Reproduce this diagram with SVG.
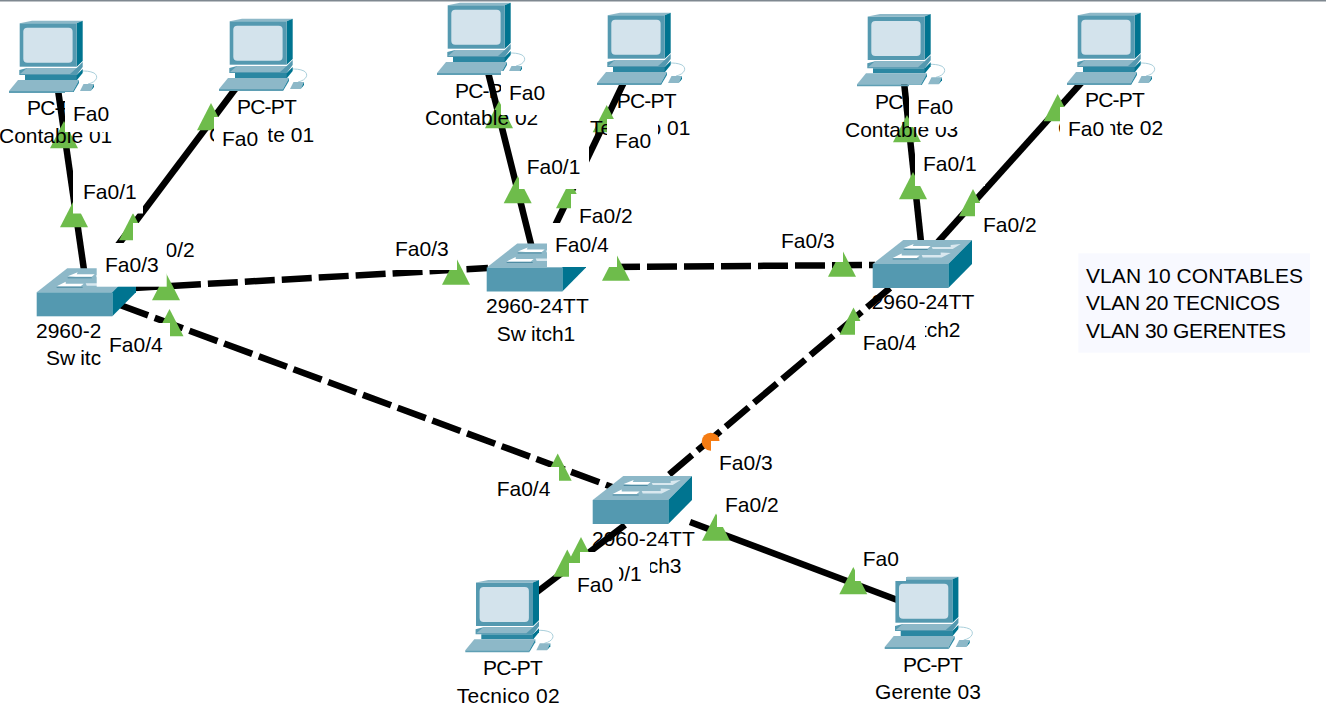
<svg xmlns="http://www.w3.org/2000/svg" xmlns:xlink="http://www.w3.org/1999/xlink" width="1326" height="715" viewBox="0 0 1326 715">
<style>
.t{font-family:"Liberation Sans",Arial,sans-serif;font-size:21px;fill:#000}
.pcn{letter-spacing:-0.8px}
.l{stroke:#000;stroke-width:6.500;fill:none}
.d{stroke:#000;stroke-width:6.500;fill:none;stroke-dasharray:30 7}
.g{fill:#6ebc4b}
.w{fill:#fff}
</style>
<defs>
<g id="pc">
<path d="M88 84C97 82 99 76 94 73C90 71 85 71 82 71" fill="none" stroke="#a9cfdb" stroke-width="1"/>
<path d="M19.7 23.3L32 20.7H82.7L76.7 23.3Z" fill="#8db8c8"/>
<path d="M76.7 23.3L82.7 20.7V61L76.7 66.7Z" fill="#007490"/>
<rect x="19.7" y="23.3" width="57" height="43.4" fill="#5499b0"/>
<rect x="23.3" y="27.7" width="49.3" height="35" rx="4" fill="#d3e3ec"/>
<path d="M19.3 70L27 68H76.7L82.7 62V67L76.7 75H19.3Z" fill="#5499b0"/>
<path d="M27 68H76.7L70 74H20Z" fill="#8db8c8"/>
<rect x="25" y="75" width="52" height="5" fill="#2b87a2"/>
<path d="M76.7 75L82.7 69V73L77 80H76.7Z" fill="#007490"/>
<path d="M9 91L18 80H79L73 91Z" fill="#8db8c8"/>
<path d="M9 91H73V93H9Z" fill="#5f9fb4"/>
<path d="M73 91L79 80V83L73 93Z" fill="#2b87a2"/>
<path d="M80 91L83.5 84H94L90.7 91Z" fill="#8db8c8"/>
<path d="M90.7 91L94 84V87L90.7 91Z" fill="#007490"/>
</g>
<g id="sw">
<path d="M0 0L30.6 -24H99.3L75.6 0Z" fill="#8db8c8"/>
<path d="M75.6 0L99.3 -24V0L75.6 24Z" fill="#007490"/>
<rect x="0" y="0" width="75.6" height="24" fill="#5499b0"/>
<path d="M20 -6L29 -10.500L29 -8.500H47L44 -6Z" fill="#fff"/>
<path d="M20 -5H46" stroke="#4f8ca3" stroke-width="1"/>
<path d="M31 -16L41 -20L40 -18H58L55 -15.500H39Z" fill="#fff"/>
<path d="M31 -14.500H55" stroke="#4f8ca3" stroke-width="1"/>
<path d="M59 -17H78V-19L88 -20L80 -15H60Z" fill="#d9e8ef"/>
<path d="M49 -9H68V-11.500L78 -11L69 -6.500H50Z" fill="#d9e8ef"/>
</g>
<path id="tr" d="M0 0L14 27.300H-14Z"/>
</defs>
<rect width="1326" height="715" fill="#fff"/>
<rect width="1326" height="1.500" fill="#7f8890"/>

<g id="connectors">
<path class="l" d="M58 90L84 270"/>
<path class="l" d="M236 88L118 245"/>
<path class="l" d="M488 72L532 248"/>
<path class="l" d="M624 82L552 232"/>
<path class="l" d="M904 82L921 242"/>
<path class="l" d="M1082 82L938 242"/>
<path class="d" d="M134 288L488 268"/>
<path class="d" d="M610 267L875 265"/>
<path class="d" d="M120 305L612 487"/>
<path class="d" d="M890 288L665 478"/>
<path class="l" d="M625 525L537 592"/>
<path class="l" d="M690 522L900 601"/>
</g>

<g id="link-lights" class="g">
<use href="#tr" x="64" y="121"/>
<use href="#tr" x="211" y="103"/>
<use href="#tr" x="74" y="200"/>
<use href="#tr" x="133" y="213"/>
<use href="#tr" x="166" y="273"/>
<use href="#tr" x="169.500" y="309"/>
<use href="#tr" x="499" y="101"/>
<use href="#tr" x="606.700" y="105"/>
<use href="#tr" x="517.700" y="176"/>
<use href="#tr" x="570" y="181"/>
<use href="#tr" x="456" y="257.500"/>
<use href="#tr" x="616" y="253.500"/>
<use href="#tr" x="913" y="172"/>
<use href="#tr" x="973" y="189"/>
<use href="#tr" x="842" y="249.500"/>
<use href="#tr" x="853.500" y="307.500"/>
<use href="#tr" x="907" y="115"/>
<use href="#tr" x="1057.700" y="94"/>
<use href="#tr" x="557.700" y="453.500"/>
<use href="#tr" x="716" y="513.500"/>
<use href="#tr" x="581" y="537"/>
<use href="#tr" x="567.300" y="549.500"/>
<use href="#tr" x="853.300" y="567"/>
<circle cx="710.700" cy="441.700" r="9" fill="#f57c13"/>
</g>

<g id="pc-contable-01"><use href="#pc"/><text class="t pcn" x="27" y="115">PC-PT</text><text class="t" x="-1" y="143">Contable 01</text></g>
<g id="pc-gerente-01"><use href="#pc" x="210" y="-2"/><text class="t pcn" x="237" y="114">PC-PT</text><text class="t" x="209" y="142">Gerente 01</text></g>
<g id="pc-contable-02"><use href="#pc" x="428" y="-18"/><text class="t pcn" x="455" y="97.700">PC-PT</text><text class="t" x="425" y="125">Contable 02</text></g>
<g id="pc-tecnico-01"><use href="#pc" x="588" y="-8"/><text class="t pcn" x="616.700" y="108">PC-PT</text><text class="t" x="590" y="135">Tecnico 01</text></g>
<g id="pc-contable-03"><use href="#pc" x="848" y="-6.700"/><text class="t pcn" x="875" y="109">PC-PT</text><text class="t" x="845" y="136.700">Contable 03</text></g>
<g id="pc-gerente-02"><use href="#pc" x="1058" y="-8"/><text class="t pcn" x="1085" y="107">PC-PT</text><text class="t" x="1058" y="135">Gerente 02</text></g>
<g id="pc-tecnico-02"><use href="#pc" x="456.300" y="559.300"/><text class="t pcn" x="483" y="675">PC-PT</text><text class="t" x="456.700" y="703.300" textLength="103">Tecnico 02</text></g>
<g id="pc-gerente-03"><use href="#pc" x="875.700" y="556"/><text class="t pcn" x="903" y="671.700">PC-PT</text><text class="t" x="875" y="699" textLength="106">Gerente 03</text></g>

<g id="switch0"><use href="#sw" x="36.700" y="292.300"/><text class="t" x="36" y="337.700">2960-24TT</text><text class="t" x="46" y="365">Sw<tspan dx="5">itch0</tspan></text></g>
<g id="switch1"><use href="#sw" x="486.700" y="267.500"/><text class="t" x="486" y="313.300">2960-24TT</text><text class="t" x="496.700" y="341">Sw<tspan dx="5">itch1</tspan></text></g>
<g id="switch2"><use href="#sw" x="872.700" y="264"/><text class="t" x="871.700" y="309">2960-24TT</text><text class="t" x="882" y="336.700">Sw<tspan dx="5">itch2</tspan></text></g>
<g id="switch3"><use href="#sw" x="592.700" y="500"/><text class="t" x="592" y="545.700">2960-24TT</text><text class="t" x="603" y="572.700">Sw<tspan dx="5">itch3</tspan></text></g>

<g id="port-labels">
<rect class="w" x="65" y="92" width="50" height="40"/><text class="t" x="73" y="120.700">Fa0</text>
<rect class="w" x="214" y="117" width="54" height="42"/><text class="t" x="222" y="146">Fa0</text>
<rect class="w" x="73" y="170" width="70" height="43.500"/><text class="t" x="83" y="199">Fa0/1</text>
<rect class="w" x="133" y="223" width="70" height="49"/><text class="t" x="141" y="257">Fa0/2</text>
<rect class="w" x="96.700" y="243" width="70" height="43.700"/><text class="t" x="105" y="272">Fa0/3</text>
<rect class="w" x="100.700" y="323" width="69.300" height="44"/><text class="t" x="109" y="351.700">Fa0/4</text>
<rect class="w" x="501" y="71" width="50" height="44"/><text class="t" x="509" y="100">Fa0</text>
<rect class="w" x="607" y="119" width="51" height="44"/><text class="t" x="615" y="147.700">Fa0</text>
<rect class="w" x="519" y="145" width="70" height="44"/><text class="t" x="526.700" y="174">Fa0/1</text>
<rect class="w" x="571" y="194" width="70" height="44"/><text class="t" x="579" y="223">Fa0/2</text>
<rect class="w" x="547" y="223" width="70" height="44"/><text class="t" x="555" y="252.300">Fa0/4</text>
<rect class="w" x="387" y="227" width="70" height="43"/><text class="t" x="395" y="255.700">Fa0/3</text>
<rect class="w" x="909" y="85" width="49" height="42"/><text class="t" x="917" y="114">Fa0</text>
<rect class="w" x="915" y="142" width="70" height="44"/><text class="t" x="923" y="171">Fa0/1</text>
<rect class="w" x="975" y="203" width="70" height="44"/><text class="t" x="983" y="232">Fa0/2</text>
<rect class="w" x="1060" y="107" width="50" height="43"/><text class="t" x="1068" y="135.700">Fa0</text>
<rect class="w" x="773" y="219" width="70" height="43"/><text class="t" x="781" y="248.300">Fa0/3</text>
<rect class="w" x="855" y="321" width="70" height="44"/><text class="t" x="862.700" y="350">Fa0/4</text>
<rect class="w" x="711" y="441" width="70" height="44"/><text class="t" x="719" y="470">Fa0/3</text>
<rect class="w" x="489" y="467" width="70" height="44"/><text class="t" x="496.700" y="496">Fa0/4</text>
<rect class="w" x="717" y="483" width="70" height="44"/><text class="t" x="725" y="512">Fa0/2</text>
<rect class="w" x="580" y="552" width="70" height="43"/><text class="t" x="588" y="580.700">Fa0/1</text>
<rect class="w" x="569" y="563" width="50" height="43"/><text class="t" x="577" y="591.700">Fa0</text>
<rect class="w" x="855" y="537" width="51" height="44"/><text class="t" x="862.700" y="566">Fa0</text>
</g>

<g id="note">
<rect x="1078.300" y="253.300" width="231.700" height="99.400" fill="#f8f9ff"/>
<text class="t" x="1086" y="282.700" textLength="217">VLAN 10 CONTABLES</text>
<text class="t" x="1086" y="310.300" textLength="194">VLAN 20 TECNICOS</text>
<text class="t" x="1086" y="337.700" textLength="200">VLAN 30 GERENTES</text>
</g>
</svg>
